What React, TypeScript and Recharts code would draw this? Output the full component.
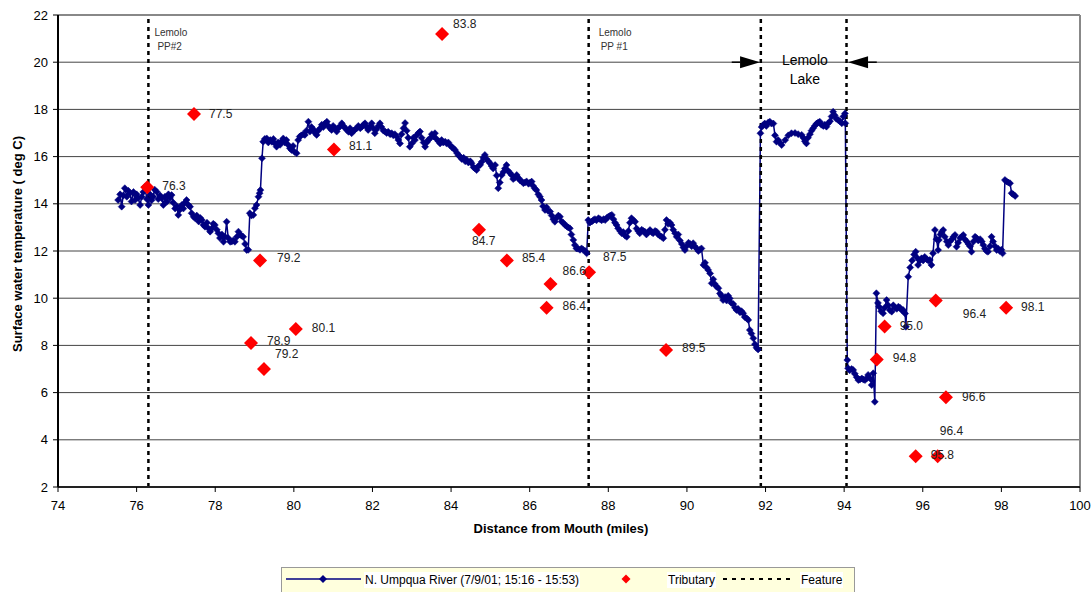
import React from 'react';
import { CartesianGrid, ComposedChart, Line, ReferenceDot, ReferenceLine, Scatter, XAxis, YAxis } from 'recharts';

const FONT = '"Liberation Sans", Arial, Helvetica, sans-serif';

const xTicks = [74, 76, 78, 80, 82, 84, 86, 88, 90, 92, 94, 96, 98, 100];
const yTicks = [2, 4, 6, 8, 10, 12, 14, 16, 18, 20, 22];

// [mile, deg C]
const riverReadings: [number, number][] = [
  [75.53, 14.16], [75.58, 14.4], [75.62, 13.88], [75.66, 14.35], [75.7, 14.66], [75.75, 14.3], [75.79, 14.55],
  [75.83, 14.45], [75.87, 14.1], [75.92, 14.5], [75.96, 14.16], [76.0, 14.4], [76.04, 14.25], [76.09, 13.95],
  [76.13, 14.3], [76.17, 14.5], [76.21, 14.72], [76.26, 14.2], [76.3, 13.95], [76.34, 14.4], [76.38, 14.15],
  [76.42, 14.3], [76.46, 14.6], [76.51, 14.51], [76.55, 14.2], [76.6, 14.35], [76.64, 14.23], [76.68, 13.95],
  [76.72, 14.3], [76.77, 14.09], [76.81, 14.4], [76.85, 14.25], [76.89, 14.37], [76.93, 14.05], [76.98, 13.8],
  [77.02, 13.9], [77.06, 13.53], [77.1, 13.75], [77.15, 13.95], [77.19, 13.8], [77.23, 14.05], [77.27, 14.16],
  [77.32, 13.95], [77.36, 13.88], [77.4, 13.6], [77.45, 13.45], [77.49, 13.39], [77.53, 13.5], [77.58, 13.25],
  [77.62, 13.4], [77.66, 13.31], [77.7, 13.1], [77.74, 13.03], [77.79, 13.2], [77.83, 12.95], [77.87, 12.82],
  [77.91, 12.95], [77.95, 13.15], [77.99, 13.1], [78.04, 12.9], [78.08, 12.75], [78.12, 12.55], [78.17, 12.7],
  [78.21, 12.39], [78.25, 12.6], [78.29, 13.24], [78.33, 12.55], [78.38, 12.39], [78.42, 12.4], [78.46, 12.45],
  [78.5, 12.39], [78.55, 12.6], [78.59, 12.82], [78.63, 12.7], [78.67, 12.65], [78.71, 12.6], [78.76, 12.3],
  [78.8, 12.04], [78.84, 12.05], [78.88, 13.6], [78.92, 13.5], [78.97, 13.53], [79.01, 13.81], [79.05, 13.95],
  [79.1, 14.3], [79.13, 14.45], [79.15, 14.58], [79.19, 15.93], [79.22, 16.63], [79.26, 16.75], [79.31, 16.77],
  [79.35, 16.6], [79.4, 16.7], [79.44, 16.63], [79.48, 16.75], [79.52, 16.55], [79.56, 16.42], [79.6, 16.6],
  [79.65, 16.5], [79.69, 16.65], [79.73, 16.77], [79.77, 16.6], [79.81, 16.7], [79.86, 16.49], [79.9, 16.35],
  [79.94, 16.28], [79.98, 16.45], [80.02, 16.2], [80.07, 16.14], [80.11, 16.7], [80.15, 16.85], [80.19, 16.9],
  [80.24, 16.95], [80.28, 16.92], [80.32, 17.1], [80.37, 17.48], [80.41, 17.06], [80.45, 17.25], [80.5, 17.15],
  [80.54, 17.0], [80.58, 16.92], [80.62, 17.1], [80.67, 17.2], [80.71, 17.35], [80.75, 17.25], [80.79, 17.4],
  [80.84, 17.48], [80.88, 17.3], [80.92, 17.2], [80.96, 17.13], [81.0, 17.3], [81.05, 17.2], [81.09, 17.06],
  [81.13, 17.2], [81.18, 17.3], [81.22, 17.41], [81.26, 17.3], [81.31, 17.2], [81.35, 17.13], [81.39, 17.05],
  [81.43, 17.2], [81.47, 16.99], [81.52, 17.1], [81.56, 17.15], [81.6, 17.2], [81.64, 17.3], [81.69, 17.2],
  [81.73, 17.27], [81.77, 17.35], [81.81, 17.41], [81.85, 17.25], [81.89, 17.13], [81.94, 17.3], [81.98, 17.41],
  [82.02, 17.2], [82.06, 16.99], [82.1, 17.15], [82.15, 17.3], [82.19, 17.41], [82.23, 17.25], [82.28, 17.1],
  [82.32, 17.06], [82.36, 17.0], [82.4, 17.05], [82.45, 16.95], [82.49, 16.99], [82.53, 16.9], [82.57, 16.95],
  [82.62, 16.84], [82.66, 16.7], [82.7, 16.56], [82.74, 16.95], [82.79, 17.2], [82.83, 17.42], [82.87, 17.1],
  [82.91, 16.8], [82.95, 16.42], [83.0, 16.55], [83.04, 16.8], [83.08, 16.7], [83.12, 16.9], [83.17, 17.0],
  [83.21, 17.06], [83.25, 16.8], [83.3, 16.6], [83.34, 16.42], [83.38, 16.6], [83.42, 16.7], [83.46, 16.77],
  [83.51, 16.95], [83.55, 16.85], [83.59, 16.99], [83.63, 16.75], [83.68, 16.65], [83.72, 16.56], [83.76, 16.7],
  [83.8, 16.6], [83.85, 16.63], [83.89, 16.55], [83.93, 16.6], [83.97, 16.49], [84.02, 16.4], [84.06, 16.35],
  [84.1, 16.28], [84.15, 16.15], [84.19, 16.05], [84.23, 16.0], [84.27, 15.9], [84.32, 15.95], [84.36, 15.8],
  [84.4, 15.86], [84.44, 15.75], [84.49, 15.8], [84.52, 15.72], [84.57, 15.55], [84.61, 15.5], [84.65, 15.43],
  [84.7, 15.6], [84.74, 15.65], [84.78, 15.78], [84.82, 15.95], [84.86, 16.07], [84.9, 15.9], [84.95, 15.8],
  [84.99, 15.72], [85.03, 15.6], [85.07, 15.5], [85.12, 15.64], [85.16, 15.2], [85.2, 14.66], [85.24, 14.9],
  [85.29, 15.22], [85.33, 15.35], [85.37, 15.5], [85.41, 15.64], [85.45, 15.4], [85.5, 15.3], [85.54, 15.22],
  [85.58, 15.05], [85.62, 15.1], [85.67, 15.22], [85.71, 15.1], [85.75, 15.0], [85.8, 14.95], [85.84, 14.87],
  [85.88, 14.9], [85.92, 14.95], [85.97, 14.85], [86.01, 14.9], [86.05, 14.94], [86.09, 14.75], [86.13, 14.65],
  [86.17, 14.58], [86.22, 14.4], [86.26, 14.3], [86.3, 14.16], [86.34, 13.9], [86.39, 13.74], [86.43, 13.85],
  [86.47, 13.7], [86.52, 13.67], [86.56, 13.5], [86.6, 13.35], [86.64, 13.24], [86.68, 13.4], [86.73, 13.5],
  [86.77, 13.45], [86.81, 13.25], [86.85, 13.2], [86.9, 13.1], [86.94, 13.05], [86.98, 13.0], [87.02, 12.96],
  [87.06, 12.7], [87.11, 12.47], [87.15, 12.25], [87.19, 12.11], [87.23, 12.1], [87.28, 12.05], [87.32, 12.11],
  [87.36, 12.05], [87.41, 12.0], [87.45, 11.9], [87.49, 13.31], [87.53, 13.2], [87.58, 13.25], [87.62, 13.31],
  [87.66, 13.35], [87.7, 13.3], [87.75, 13.39], [87.79, 13.35], [87.83, 13.3], [87.88, 13.35], [87.92, 13.31],
  [87.96, 13.4], [88.0, 13.45], [88.05, 13.5], [88.09, 13.53], [88.13, 13.35], [88.17, 13.2], [88.21, 13.1],
  [88.25, 12.96], [88.3, 12.85], [88.34, 12.75], [88.38, 12.8], [88.43, 12.65], [88.47, 12.6], [88.51, 12.85],
  [88.55, 13.2], [88.59, 13.39], [88.64, 13.3], [88.68, 13.24], [88.72, 12.95], [88.76, 12.85], [88.8, 12.75],
  [88.85, 12.9], [88.89, 12.85], [88.93, 12.82], [88.97, 12.7], [89.02, 12.8], [89.06, 12.89], [89.1, 12.8],
  [89.14, 12.75], [89.19, 12.85], [89.23, 12.82], [89.27, 12.7], [89.31, 12.65], [89.36, 12.6], [89.4, 12.54],
  [89.44, 12.9], [89.48, 13.31], [89.52, 13.15], [89.57, 13.2], [89.61, 13.1], [89.65, 12.9], [89.7, 12.75],
  [89.74, 12.6], [89.78, 12.7], [89.82, 12.45], [89.87, 12.3], [89.91, 12.15], [89.95, 12.04], [89.99, 12.2],
  [90.04, 12.35], [90.08, 12.3], [90.12, 12.2], [90.16, 12.33], [90.2, 12.2], [90.25, 12.1], [90.29, 12.0],
  [90.33, 12.05], [90.37, 12.11], [90.42, 11.41], [90.46, 11.5], [90.5, 11.3], [90.54, 11.2], [90.59, 11.05],
  [90.63, 10.63], [90.67, 10.8], [90.71, 10.6], [90.75, 10.5], [90.8, 10.42], [90.84, 10.2], [90.88, 10.1],
  [90.92, 9.92], [90.97, 10.05], [91.01, 9.9], [91.05, 10.1], [91.09, 9.99], [91.13, 9.8], [91.18, 9.75],
  [91.22, 9.6], [91.26, 9.5], [91.3, 9.55], [91.35, 9.4], [91.39, 9.45], [91.43, 9.36], [91.47, 9.2],
  [91.52, 9.15], [91.56, 9.08], [91.6, 8.65], [91.64, 8.5], [91.69, 8.3], [91.73, 8.05], [91.77, 7.9],
  [91.81, 7.83], [91.87, 16.99], [91.9, 17.25], [91.94, 17.34], [91.98, 17.4], [92.02, 17.3], [92.07, 17.45],
  [92.11, 17.48], [92.15, 17.4], [92.2, 17.4], [92.24, 16.9], [92.28, 16.63], [92.32, 16.7], [92.36, 16.6],
  [92.41, 16.49], [92.5, 16.7], [92.58, 16.9], [92.66, 16.99], [92.75, 17.0], [92.83, 16.95], [92.92, 16.92],
  [92.96, 16.8], [93.0, 16.65], [93.04, 16.56], [93.08, 16.8], [93.13, 16.95], [93.17, 17.1], [93.21, 17.2],
  [93.25, 17.3], [93.3, 17.4], [93.34, 17.45], [93.38, 17.48], [93.42, 17.35], [93.47, 17.3], [93.51, 17.35],
  [93.55, 17.27], [93.59, 17.4], [93.64, 17.5], [93.68, 17.7], [93.72, 17.9], [93.76, 17.75], [93.8, 17.6],
  [93.85, 17.55], [93.89, 17.5], [93.94, 17.41], [93.98, 17.7], [94.02, 17.83], [94.03, 17.41], [94.08, 7.38],
  [94.1, 7.03], [94.14, 6.95], [94.19, 7.0], [94.23, 6.96], [94.27, 6.8], [94.32, 6.65], [94.36, 6.53],
  [94.4, 6.55], [94.45, 6.6], [94.49, 6.55], [94.53, 6.53], [94.57, 6.6], [94.61, 6.75], [94.66, 6.6],
  [94.7, 6.32], [94.74, 6.82], [94.78, 5.61], [94.82, 10.21], [94.86, 9.8], [94.89, 9.64], [94.94, 9.45],
  [94.99, 9.36], [95.03, 9.6], [95.08, 9.92], [95.12, 9.7], [95.16, 9.5], [95.21, 9.43], [95.25, 9.7],
  [95.29, 9.6], [95.34, 9.55], [95.38, 9.64], [95.42, 9.6], [95.46, 9.5], [95.5, 9.5], [95.55, 9.35],
  [95.57, 8.79], [95.63, 10.91], [95.68, 11.3], [95.73, 11.6], [95.78, 11.85], [95.82, 11.97], [95.86, 11.7],
  [95.88, 11.41], [95.93, 11.6], [95.97, 11.69], [96.01, 11.6], [96.05, 11.75], [96.1, 11.65], [96.14, 11.6],
  [96.18, 11.62], [96.22, 11.41], [96.26, 11.9], [96.31, 12.89], [96.35, 12.5], [96.39, 12.04], [96.41, 12.47],
  [96.45, 12.7], [96.48, 12.8], [96.52, 12.89], [96.56, 12.6], [96.61, 12.4], [96.65, 12.25], [96.69, 12.4],
  [96.74, 12.5], [96.78, 12.6], [96.82, 12.68], [96.86, 12.18], [96.9, 12.35], [96.95, 12.55], [96.99, 12.6],
  [97.03, 12.68], [97.07, 12.5], [97.12, 12.4], [97.16, 12.3], [97.2, 12.2], [97.24, 11.97], [97.29, 12.4],
  [97.33, 12.6], [97.37, 12.55], [97.41, 12.45], [97.46, 12.5], [97.5, 12.4], [97.54, 12.25], [97.58, 12.1],
  [97.62, 12.0], [97.66, 11.97], [97.71, 12.2], [97.75, 12.6], [97.79, 12.4], [97.84, 12.2], [97.88, 12.04],
  [97.92, 12.1], [97.96, 12.0], [98.0, 12.05], [98.03, 11.9], [98.09, 15.01], [98.13, 14.95], [98.18, 14.9],
  [98.22, 14.87], [98.26, 14.45], [98.3, 14.4], [98.35, 14.33],
];

const tribMiles = [76.27, 77.46, 79.14, 78.91, 79.24, 80.05, 81.02, 83.77, 84.71, 85.42, 86.53, 86.43, 87.51, 89.47, 94.83, 95.03, 96.33, 98.12, 96.59, 95.82, 96.38];
const tribTemps = [14.7, 17.8, 11.6, 8.1, 7.0, 8.7, 16.3, 21.2, 12.9, 11.6, 10.6, 9.6, 11.1, 7.8, 7.4, 8.8, 9.9, 9.6, 5.8, 3.3, 3.3];
const tribLabels = ['76.3', '77.5', '79.2', '78.9', '79.2', '80.1', '81.1', '83.8', '84.7', '85.4', '86.6', '86.4', '87.5', '89.5', '94.8', '95.0', '96.4', '98.1', '96.6', '95.8', '96.4'];
// where each label sits relative to its marker (px)
const tribLabelOffsets: [number, number][] = [
  [15, -1], [15, 0], [17, -2], [16, -2], [11, -15], [16, -1], [15, -4], [11, -10], [-7, 11], [15, -2], [12, -13],
  [16, -2], [14, -15], [16, -2], [16, -2], [15, -1], [27, 13], [15, -1], [16, 0], [15, -1], [2, -25],
];

const featureMiles = [76.3, 87.5, 91.88, 94.06];
const featureNotes = [['Lemolo', 'PP#2'], ['Lemolo', 'PP #1'], [], []];

const riverData = riverReadings.map(([mile, temp]) => ({ mile, temp }));
const tribData = tribMiles.map((mile, i) => ({ mile, temp: tribTemps[i], label: tribLabels[i], idx: i }));

const NAVY = '#000080';

function RiverDot(props: any) {
  const { cx, cy } = props;
  if (cx == null || cy == null) return null;
  const r = 3.5;
  return <path d={`M${cx},${cy - r}L${cx + r},${cy}L${cx},${cy + r}L${cx - r},${cy}Z`} fill={NAVY} stroke={NAVY} strokeWidth={0.5} />;
}

function TribDiamond(props: any) {
  const { cx, cy } = props;
  const r = 7;
  return <path d={`M${cx},${cy - r}L${cx + r},${cy}L${cx},${cy + r}L${cx - r},${cy}Z`} fill="#ff0000" />;
}

function TribLabel(props: any) {
  const { cx, cy, payload } = props;
  const [dx, dy] = tribLabelOffsets[payload.idx];
  return (
    <text x={cx + dx} y={cy + dy} dominantBaseline="central" fontSize={12} fontFamily={FONT} fill="#222">
      {payload.label}
    </text>
  );
}

function Arrow(props: any) {
  const { x1, y1, x2, y2 } = props;
  const dir = x2 > x1 ? 1 : -1;
  const len = 20;
  const half = 6;
  return (
    <g>
      <line x1={x1} y1={y1} x2={x2 - dir * len} y2={y2} stroke="#000" strokeWidth={1.5} />
      <path d={`M${x2},${y2}L${x2 - dir * len},${y2 - half}L${x2 - dir * len},${y2 + half}Z`} fill="#000" />
    </g>
  );
}

function featureLabel(lines: string[], i: number) {
  return (p: any) => {
    if (!lines.length) return null;
    const x = p.viewBox.x;
    const shift = i === 0 ? [6, 9] : [10, 12];
    return (
      <g fontFamily={FONT} fontSize={10} fill="#333">
        <text x={x + shift[0]} y={32} dominantBaseline="central">{lines[0]}</text>
        <text x={x + shift[1]} y={46} dominantBaseline="central">{lines[1]}</text>
      </g>
    );
  };
}

function LakeLabel(p: any) {
  const cx = p.viewBox.x + p.viewBox.width / 2;
  const cy = p.viewBox.y + p.viewBox.height / 2;
  return (
    <g fontFamily={FONT} fontSize={14} fill="#000" textAnchor="middle">
      <text x={cx} y={cy - 2} dominantBaseline="central">Lemolo</text>
      <text x={cx} y={cy + 17} dominantBaseline="central">Lake</text>
    </g>
  );
}

function ChartLegend() {
  const box: React.CSSProperties = {
    position: 'absolute', left: 281, top: 567, width: 574, height: 30, background: '#ffffdd',
    border: '1px solid #999', boxSizing: 'border-box', fontFamily: FONT, fontSize: 12, color: '#000',
  };
  const txt: React.CSSProperties = { position: 'absolute', top: 4, background: '#fff', lineHeight: '16px', padding: '0 1px' };
  return (
    <div style={box}>
      <svg width={574} height={30} style={{ position: 'absolute', left: -1, top: -1 }}>
        <line x1={5} y1={12} x2={80} y2={12} stroke={NAVY} strokeWidth={1.5} />
        <path d="M42,8L46,12L42,16L38,12Z" fill={NAVY} />
        <path d="M345,7.5L349.5,12L345,16.5L340.5,12Z" fill="#ff0000" />
        <line x1={442} y1={12} x2={514} y2={12} stroke="#000" strokeWidth={2} strokeDasharray="4 5" />
      </svg>
      <span style={{ ...txt, left: 82 }}>N. Umpqua River (7/9/01; 15:16 - 15:53)</span>
      <span style={{ ...txt, left: 385 }}>Tributary</span>
      <span style={{ ...txt, left: 518 }}>Feature</span>
    </div>
  );
}

export default function App() {
  const tick = { fill: '#000', fontSize: 13, fontFamily: FONT };
  return (
    <div style={{ position: 'absolute', left: 0, top: 0, width: 1092, height: 592, background: '#fff', overflow: 'hidden' }}>
      <ComposedChart width={1092} height={592} margin={{ top: 15, right: 12, left: 0, bottom: 60 }}>
        <CartesianGrid vertical={false} stroke="#444" strokeWidth={1} />
        <XAxis
          type="number"
          dataKey="mile"
          domain={[74, 100]}
          ticks={xTicks}
          allowDataOverflow
          height={45}
          tick={tick}
          tickSize={5}
          tickMargin={9}
          axisLine={{ stroke: '#222', strokeWidth: 2 }}
          tickLine={{ stroke: '#000' }}
          label={(p: any) => (
            <text x={p.viewBox.x + p.viewBox.width / 2 - 8} y={528} textAnchor="middle" dominantBaseline="central" fontFamily={FONT} fontSize={13} fontWeight="bold" fill="#000">
              Distance from Mouth (miles)
            </text>
          )}
        />
        <YAxis
          type="number"
          domain={[2, 22]}
          ticks={yTicks}
          allowDataOverflow
          width={58}
          tick={tick}
          tickSize={5}
          tickMargin={5}
          axisLine={{ stroke: '#000', strokeWidth: 2 }}
          tickLine={{ stroke: '#000' }}
          label={(p: any) => (
            <text x={17} y={p.viewBox.y + p.viewBox.height / 2 - 7} textAnchor="middle" dominantBaseline="central" transform={`rotate(-90 17 ${p.viewBox.y + p.viewBox.height / 2 - 7})`} fontFamily={FONT} fontSize={13} fontWeight="bold" fill="#000">
              Surface water temperature ( deg C)
            </text>
          )}
        />
        <ReferenceLine y={22} stroke="#888" strokeWidth={2} />
        <ReferenceLine x={100} stroke="#888" strokeWidth={2} />
        <Line
          data={riverData}
          dataKey="temp"
          type="linear"
          stroke={NAVY}
          strokeWidth={1.5}
          dot={<RiverDot />}
          activeDot={false}
          isAnimationActive={false}
        />
        <Scatter data={tribData} dataKey="temp" shape={<TribDiamond />} isAnimationActive={false} />
        <Scatter data={tribData} dataKey="temp" shape={<TribLabel />} isAnimationActive={false} />
        {featureMiles.map((m, i) => (
          <ReferenceLine
            key={m}
            x={m}
            stroke="#000"
            strokeWidth={2.5}
            strokeDasharray="4 4"
            label={{ content: featureLabel(featureNotes[i], i) } as any}
          />
        ))}
        <ReferenceLine segment={[{ x: 91.14, y: 20 }, { x: 91.86, y: 20 }]} shape={<Arrow />} />
        <ReferenceLine segment={[{ x: 94.83, y: 20 }, { x: 94.1, y: 20 }]} shape={<Arrow />} />
        <ReferenceDot x={93.0} y={20} r={1} fill="none" stroke="none" label={{ content: LakeLabel } as any} />
      </ComposedChart>
      <ChartLegend />
    </div>
  );
}
